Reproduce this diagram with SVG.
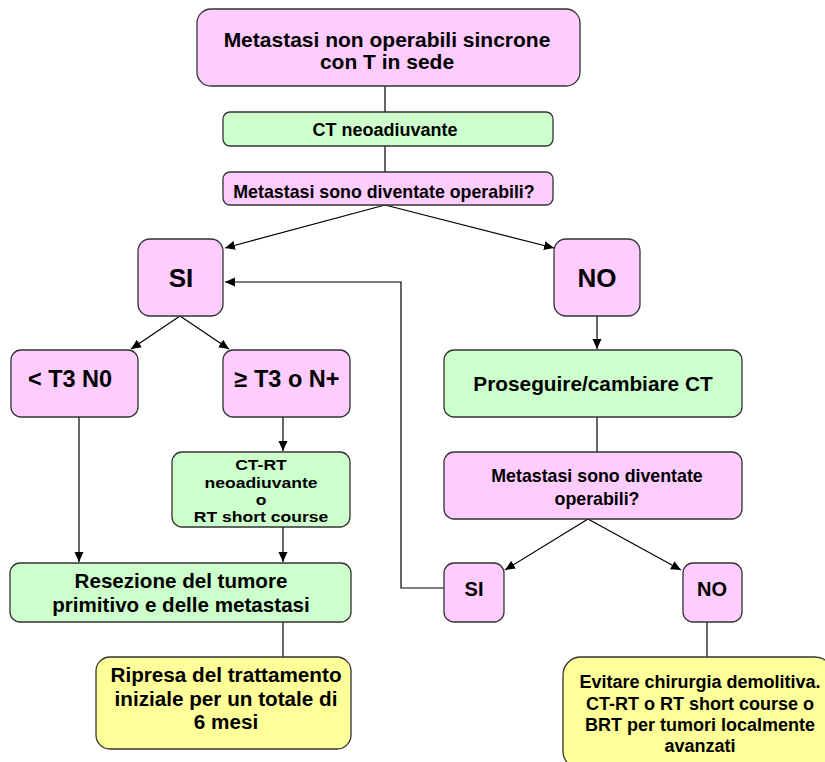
<svg xmlns="http://www.w3.org/2000/svg" width="825" height="762" viewBox="0 0 825 762">
<defs>
<marker id="arr" viewBox="0 0 10 10" refX="10" refY="5" markerWidth="10" markerHeight="10" markerUnits="userSpaceOnUse" orient="auto">
<path d="M0,0.5 L10,5 L0,9.5 z" fill="#000"/>
</marker>
<style>
rect{stroke:#333;stroke-width:1.3}
.p{fill:#FFCCFF}
.g{fill:#CCFFCC}
.y{fill:#FFFF99}
text{font-family:"Liberation Sans",Arial,sans-serif;font-weight:bold;fill:#000;text-anchor:middle}
.c line,.c polyline{stroke:#000;stroke-width:1.2;fill:none}
.c .a{marker-end:url(#arr)}
</style>
</defs>
<rect width="825" height="762" fill="#fff" style="stroke:none"/>
<g class="c" id="connectors">
<line x1="385" y1="86" x2="385" y2="112"/>
<line x1="385" y1="146" x2="385" y2="172"/>
<line class="a" x1="385" y1="205" x2="225" y2="248"/>
<line class="a" x1="385" y1="205" x2="554" y2="248"/>
<line class="a" x1="180" y1="316" x2="131" y2="349"/>
<line class="a" x1="180" y1="316" x2="229" y2="349"/>
<line class="a" x1="283" y1="417" x2="283" y2="451"/>
<line class="a" x1="79" y1="417" x2="79" y2="562"/>
<line class="a" x1="283" y1="527" x2="283" y2="562"/>
<line x1="283" y1="622" x2="283" y2="657"/>
<line class="a" x1="597" y1="316" x2="597" y2="349"/>
<line x1="597" y1="417" x2="597" y2="452"/>
<line class="a" x1="588" y1="519" x2="505" y2="570"/>
<line class="a" x1="588" y1="519" x2="681" y2="570"/>
<polyline class="a" points="444,588 401,588 401,282 225,282"/>
<line x1="707" y1="622" x2="707" y2="657"/>
</g>
<g id="n1"><rect class="p" x="197" y="9" width="383" height="77" rx="14"/>
<text font-size="21"><tspan x="387" y="47">Metastasi non operabili sincrone</tspan><tspan x="387" y="69">con T in sede</tspan></text></g>
<g id="n2"><rect class="g" x="223" y="112" width="330" height="34" rx="7"/>
<text font-size="18" x="385" y="136">CT neoadiuvante</text></g>
<g id="n3"><rect class="p" x="223" y="172" width="330" height="33" rx="7"/>
<text font-size="17.8" x="384" y="198">Metastasi sono diventate operabili?</text></g>
<g id="n4"><rect class="p" x="138" y="239" width="85" height="77" rx="12"/>
<text font-size="26" x="181" y="287">SI</text></g>
<g id="n5"><rect class="p" x="554" y="239" width="86" height="77" rx="12"/>
<text font-size="26" x="597" y="287">NO</text></g>
<g id="n6"><rect class="p" x="11" y="350" width="127" height="67" rx="10"/>
<text font-size="23.5" x="70" y="387">&lt; T3 N0</text></g>
<g id="n7"><rect class="p" x="223" y="350" width="127" height="67" rx="10"/>
<text font-size="23.5" x="287" y="387">≥ T3 o N+</text></g>
<g id="n8"><rect class="g" x="172" y="452" width="178" height="75" rx="10"/>
<text font-size="15" transform="translate(261 0) scale(1.17 1)"><tspan x="0" y="470.5">CT-RT</tspan><tspan x="0" y="487.8">neoadiuvante</tspan><tspan x="0" y="505.1">o</tspan><tspan x="0" y="522.4">RT short course</tspan></text></g>
<g id="n9"><rect class="g" x="444" y="350" width="298" height="67" rx="10"/>
<text font-size="20.8" x="593" y="391">Proseguire/cambiare CT</text></g>
<g id="n10"><rect class="p" x="444" y="452" width="298" height="67" rx="10"/>
<text font-size="17.8"><tspan x="597" y="482">Metastasi sono diventate</tspan><tspan x="597" y="505">operabili?</tspan></text></g>
<g id="n11"><rect class="g" x="10" y="563" width="341" height="59" rx="10"/>
<text font-size="20.6"><tspan x="181" y="588">Resezione del tumore</tspan><tspan x="181" y="612">primitivo e delle metastasi</tspan></text></g>
<g id="n12"><rect class="p" x="444" y="563" width="60" height="59" rx="10"/>
<text font-size="20" x="474" y="596">SI</text></g>
<g id="n13"><rect class="p" x="683" y="563" width="59" height="59" rx="10"/>
<text font-size="20" x="712" y="596">NO</text></g>
<g id="n14"><rect class="y" x="96" y="657" width="255" height="92" rx="14"/>
<text font-size="20.7"><tspan x="226" y="682">Ripresa del trattamento</tspan><tspan x="226" y="706">iniziale per un totale di</tspan><tspan x="226" y="729">6 mesi</tspan></text></g>
<g id="n15"><rect class="y" x="563" y="657" width="270" height="112" rx="18"/>
<text font-size="18"><tspan x="700" y="688">Evitare chirurgia demolitiva.</tspan><tspan x="700" y="709.5">CT-RT o RT short course o</tspan><tspan x="700" y="731">BRT per tumori localmente</tspan><tspan x="700" y="752">avanzati</tspan></text></g>
</svg>
